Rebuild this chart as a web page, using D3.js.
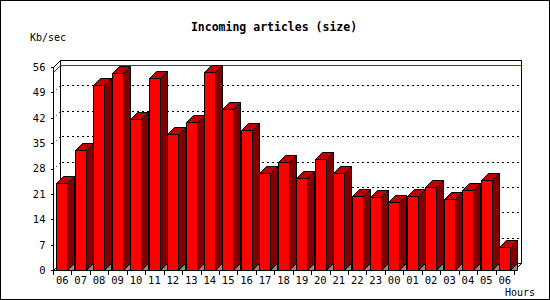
<!DOCTYPE html>
<html>
<head>
<meta charset="utf-8">
<script src="https://cdn.jsdelivr.net/npm/d3@7/dist/d3.min.js"></script>
<style>
  html, body { margin: 0; padding: 0; background: #fff; }
  svg { display: block; }
  text { font-family: "DejaVu Sans Mono", monospace; fill: #000; }
</style>
</head>
<body>
<svg id="chart" width="550" height="300"></svg>
<script>
const title = "Incoming articles (size)";
const yLabel = "Kb/sec";
const xLabel = "Hours";
const hours = ["06","07","08","09","10","11","12","13","14","15","16","17","18","19","20","21","22","23","00","01","02","03","04","05","06"];
const kbPerSec = [23.9,33.1,50.9,54.3,41.7,52.9,37.4,40.7,54.5,44.3,38.5,26.7,29.7,25.3,30.5,26.7,20.3,20.1,18.7,20.3,22.8,19.5,22.0,24.7,6.4];
const yTicks = [0,7,14,21,28,35,42,49,56];

const W = 550, H = 300;
const depth = 7;
const svg = d3.select("#chart");

// frame
svg.append("rect").attr("x",0.5).attr("y",0.5).attr("width",W-1).attr("height",H-1)
  .attr("fill","#fff").attr("stroke","#000").attr("shape-rendering","crispEdges");

const x = d3.scaleBand().domain(d3.range(hours.length)).range([53, 514]).padding(0);
const y = d3.scaleLinear().domain([0, 56]).range([270, 67]);

const X0 = x.range()[0], X1 = x.range()[1];
const Y0 = y(0), Ytop = y(56);
const p = v => Math.round(v) + 0.5;

// back wall
const g = svg.append("g").attr("shape-rendering","crispEdges");
g.append("rect").attr("x",p(X0+depth)).attr("y",p(Ytop-depth))
  .attr("width",Math.round(X1-X0)).attr("height",Math.round(Y0-Ytop))
  .attr("fill","#fff").attr("stroke","#000");

// gridlines (back wall + side wall)
const grid = yTicks.filter(t => t > 0 && t < 56);
grid.forEach(t => {
  const yy = p(y(t));
  g.append("line").attr("x1",p(X0+depth)+1).attr("x2",p(X1+depth)-1)
    .attr("y1",yy-depth).attr("y2",yy-depth)
    .attr("stroke","#000").attr("stroke-dasharray","2,3");
  svg.append("line").attr("x1",p(X0)).attr("y1",yy).attr("x2",p(X0+depth)).attr("y2",yy-depth)
    .attr("stroke","#000").attr("stroke-dasharray","1,3");
});

// max line (red)
const maxV = d3.max(kbPerSec);
const ym = p(y(maxV));
svg.append("path")
  .attr("d",`M${p(X0)},${ym} L${p(X0+depth)},${ym-depth} L${p(X1+depth)},${ym-depth}`)
  .attr("fill","none").attr("stroke","#e00000").attr("stroke-width",1);

// side wall & floor outlines
svg.append("path")
  .attr("d",`M${p(X0)},${p(Ytop)} L${p(X0+depth)},${p(Ytop-depth)}`)
  .attr("stroke","#000").attr("fill","none");
svg.append("path")
  .attr("d",`M${p(X1)},${p(Y0)} L${p(X1+depth)},${p(Y0-depth)}`)
  .attr("stroke","#000").attr("fill","none");
svg.append("path")
  .attr("d",`M${p(X0)},${p(Y0)} L${p(X0+depth)},${p(Y0-depth)}`)
  .attr("stroke","#000").attr("fill","none");

// bars
const bars = svg.append("g").attr("stroke","#000").attr("stroke-linejoin","miter");
kbPerSec.forEach((v, i) => {
  const xl = p(x(i) + 3.5), xr = xl + 11;
  const yt = p(y(v)), yb = p(Y0);
  // gray floor triangle
  bars.append("path").attr("d",`M${xr},${yb} L${xr+depth},${yb-depth} L${xr+depth},${yb} Z`)
    .attr("fill","#8c8c8c");
  // side
  bars.append("path").attr("d",`M${xr},${yt} L${xr+depth},${yt-depth} L${xr+depth},${yb-depth} L${xr},${yb} Z`)
    .attr("fill","#800000");
  // top
  bars.append("path").attr("d",`M${xl},${yt} L${xl+depth},${yt-depth} L${xr+depth},${yt-depth} L${xr},${yt} Z`)
    .attr("fill","#c00000");
  // front
  bars.append("rect").attr("x",xl).attr("y",yt).attr("width",xr-xl).attr("height",yb-yt)
    .attr("fill","#ff0000").attr("shape-rendering","crispEdges");
});

// y axis
const ya = svg.append("g").attr("transform",`translate(${p(X0)},0)`)
  .call(d3.axisLeft(y).tickValues(yTicks).tickSize(3).tickPadding(5).tickFormat(d3.format("d")));
ya.select(".domain").attr("d",`M0,${p(Ytop)}V${p(Y0)}`).attr("shape-rendering","crispEdges");
ya.selectAll(".tick line").attr("shape-rendering","crispEdges");
ya.selectAll("text").style("font-family","'DejaVu Sans Mono', monospace").style("font-size","10.5px");
ya.attr("font-size",null).attr("font-family",null);

// x axis
const xa = svg.append("g").attr("transform",`translate(0,${p(Y0)})`)
  .call(d3.axisBottom(x).tickSize(0).tickPadding(6).tickFormat(i => hours[i]));
xa.select(".domain").attr("d",`M${p(X0)},0H${p(X1)}`).attr("shape-rendering","crispEdges");
xa.selectAll("text").style("font-family","'DejaVu Sans Mono', monospace").style("font-size","10.5px");
xa.attr("font-size",null).attr("font-family",null);
// boundary ticks
const bounds = d3.range(hours.length + 1).map(i => X0 + i * x.step());
svg.append("g").selectAll("line").data(bounds).join("line")
  .attr("x1",d => p(d)).attr("x2",d => p(d)).attr("y1",p(Y0)).attr("y2",p(Y0)+4)
  .attr("stroke","#000").attr("shape-rendering","crispEdges");

// texts
svg.append("text").attr("x",274).attr("y",30.5).attr("text-anchor","middle")
  .style("font-size","11.5px").style("font-weight","bold").text(title);
svg.append("text").attr("x",30).attr("y",40.5).style("font-size","10px").text(yLabel);
svg.append("text").attr("x",505).attr("y",295.5).style("font-size","10px").text(xLabel);
</script>
</body>
</html>
